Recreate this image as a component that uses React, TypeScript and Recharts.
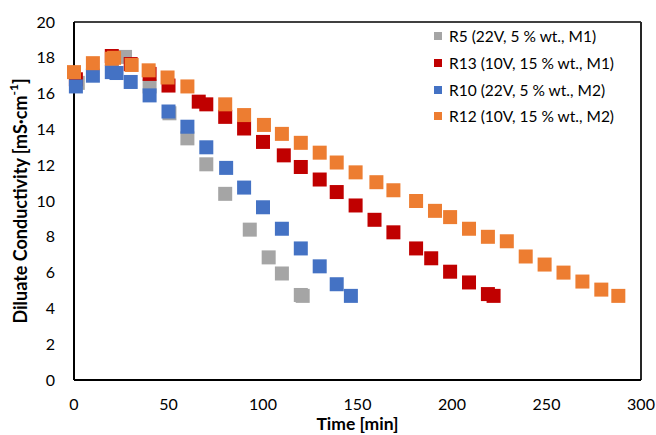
import React from 'react';
import { ScatterChart, Scatter, XAxis, YAxis, ReferenceLine, Label } from 'recharts';

const timeR5 = [2, 27, 40, 50.5, 60, 70, 80, 93, 103, 110, 120, 121];
const valR5 = [16.6, 18.05, 16.4, 14.9, 13.5, 12.05, 10.4, 8.4, 6.85, 5.95, 4.75, 4.7];

const timeR13 = [1, 20, 30, 40, 50, 66, 70, 80, 90, 100, 111, 120, 130, 139, 149, 159, 169, 181, 189, 199, 209, 219, 222];
const valR13 = [16.8, 18.1, 17.65, 17.1, 16.45, 15.55, 15.4, 14.7, 14.05, 13.3, 12.55, 11.9, 11.2, 10.5, 9.75, 8.95, 8.25, 7.35, 6.8, 6.05, 5.45, 4.8, 4.7];

const timeR10 = [1, 10, 20, 22.5, 30, 40, 50, 60, 70, 80.5, 90, 100, 110, 120, 130, 139, 146.5];
const valR10 = [16.4, 17.0, 17.2, 17.15, 16.65, 15.9, 15.0, 14.15, 13.0, 11.85, 10.75, 9.65, 8.45, 7.35, 6.35, 5.35, 4.7];

const timeR12 = [0, 10, 20, 21.2, 30.5, 39.5, 49.5, 60, 80, 90, 100.5, 110, 120, 130, 139, 149, 160, 169, 181, 191, 199, 209, 219, 229, 239, 249, 259, 269, 279, 288];
const valR12 = [17.2, 17.7, 17.95, 18.0, 17.6, 17.3, 16.9, 16.4, 15.4, 14.8, 14.25, 13.75, 13.25, 12.7, 12.15, 11.6, 11.05, 10.6, 10.0, 9.45, 9.1, 8.45, 8.0, 7.75, 6.9, 6.45, 6.0, 5.5, 5.05, 4.7];

const seriesNames = ['R5 (22V, 5 % wt., M1)', 'R13 (10V, 15 % wt., M1)', 'R10 (22V, 5 % wt., M2)', 'R12 (10V, 15 % wt., M2)'];
const seriesColors = ['#A5A5A5', '#C00000', '#4472C4', '#ED7D31'];

const xTicks = [0, 50, 100, 150, 200, 250, 300];
const yTicks = [0, 2, 4, 6, 8, 10, 12, 14, 16, 18, 20];

const toPoints = (t: number[], v: number[]) => t.map((x, i) => ({ x, y: v[i] }));
const seriesData = [
  toPoints(timeR5, valR5),
  toPoints(timeR13, valR13),
  toPoints(timeR10, valR10),
  toPoints(timeR12, valR12),
];

const FONT = 'Lato, "Open Sans", sans-serif';

const makeSquare = (color: string) => (props: any) => {
  const { cx, cy } = props;
  if (cx == null || cy == null) return null;
  return <rect x={cx - 7} y={cy - 7} width={14} height={14} fill={color} />;
};

const YTitle = (props: any) => {
  const vb = props.viewBox || {};
  const cx = 20;
  const cy = (vb.y ?? 22) + (vb.height ?? 358) / 2;
  return (
    <text
      x={cx}
      y={cy}
      transform={`rotate(-90 ${cx} ${cy})`}
      textAnchor="middle"
      dominantBaseline="central"
      fontFamily={FONT}
      fontWeight="bold"
      fontSize={18}
      fill="#000"
    >
      Diluate Conductivity [mS·cm
      <tspan dy={-7} fontSize={12}>-1</tspan>
      <tspan dy={7}>]</tspan>
    </text>
  );
};

const XTitle = (props: any) => {
  const vb = props.viewBox || {};
  const cx = (vb.x ?? 74) + (vb.width ?? 567) / 2;
  return (
    <text
      x={cx}
      y={423}
      textAnchor="middle"
      dominantBaseline="central"
      fontFamily={FONT}
      fontWeight="bold"
      fontSize={17.5}
      fill="#000"
    >
      Time [min]
    </text>
  );
};

export default function App() {
  return (
    <div style={{ position: 'absolute', left: 0, top: 0, width: 656, height: 435, background: '#fff' }}>
      <ScatterChart width={656} height={435} margin={{ top: 22, right: 15, bottom: 0, left: 0 }}>
        <XAxis
          type="number"
          dataKey="x"
          domain={[0, 300]}
          ticks={xTicks}
          interval={0}
          height={55}
          tickLine={false}
          tickSize={0}
          tickMargin={19}
          axisLine={{ stroke: '#000', strokeWidth: 2 }}
          tick={{ fontFamily: FONT, fontSize: 16, fill: '#000' }}
        >
          <Label content={XTitle} />
        </XAxis>
        <YAxis
          type="number"
          dataKey="y"
          domain={[0, 20]}
          ticks={yTicks}
          interval={0}
          width={74}
          tickLine={false}
          tickSize={0}
          tickMargin={19}
          axisLine={{ stroke: '#000', strokeWidth: 2 }}
          tick={{ fontFamily: FONT, fontSize: 16, fill: '#000' }}
        >
          <Label content={YTitle} />
        </YAxis>
        <ReferenceLine y={20} stroke="#404040" strokeWidth={2} />
        <ReferenceLine x={300} stroke="#262626" strokeWidth={2} />
        {seriesData.map((d, i) => (
          <Scatter
            key={seriesNames[i]}
            name={seriesNames[i]}
            data={d}
            fill={seriesColors[i]}
            shape={makeSquare(seriesColors[i])}
            isAnimationActive={false}
          />
        ))}
      </ScatterChart>
      <div
        style={{
          position: 'absolute',
          left: 434,
          top: 23,
          fontFamily: FONT,
          fontSize: 15.5,
          color: '#000',
        }}
      >
        {seriesNames.map((n, i) => (
          <div key={n} style={{ display: 'flex', alignItems: 'center', height: 26.7, whiteSpace: 'nowrap' }}>
            <span style={{ display: 'inline-block', width: 8, height: 8, background: seriesColors[i], marginRight: 7 }} />
            <span>{n}</span>
          </div>
        ))}
      </div>
    </div>
  );
}
